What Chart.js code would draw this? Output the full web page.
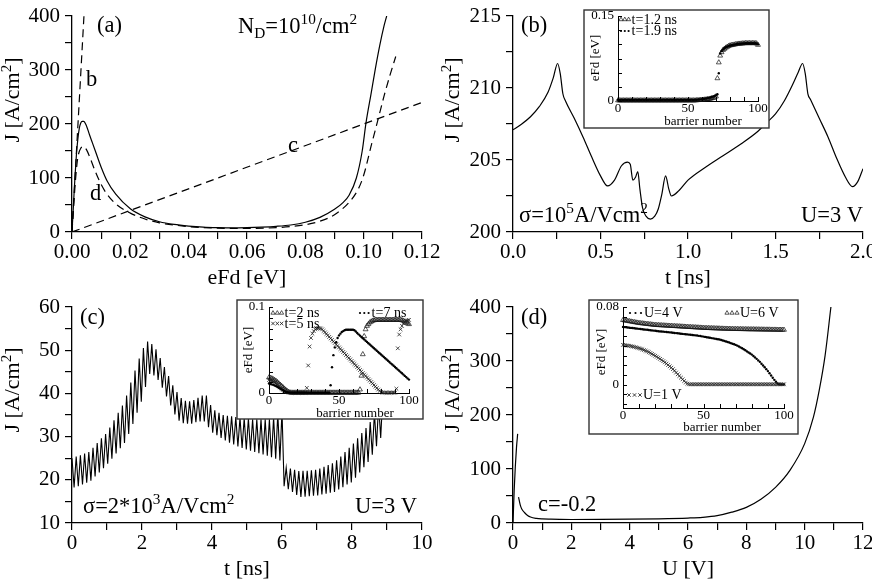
<!DOCTYPE html>
<html>
<head>
<meta charset="utf-8">
<script src="https://cdn.jsdelivr.net/npm/chart.js@4.4.1/dist/chart.umd.min.js"></script>
<style>
  html, body { margin: 0; padding: 0; background: #fff; }
  #wrap { position: relative; width: 872px; height: 579px; overflow: hidden; background: #fff; }
  #wrap canvas { position: absolute; left: 0; top: 0; }
</style>
</head>
<body>
<div id="wrap">
  <canvas id="pa" width="872" height="579"></canvas>
  <canvas id="pb" width="872" height="579"></canvas>
  <canvas id="pc" width="872" height="579"></canvas>
  <canvas id="pd" width="872" height="579"></canvas>
  <canvas id="ib" width="872" height="579"></canvas>
  <canvas id="ic" width="872" height="579"></canvas>
  <canvas id="id" width="872" height="579"></canvas>
</div>
<script>
// ---- panel (a): J vs eFd ----
const aSolidX = [0, 0.0005, 0.001, 0.0015, 0.002, 0.0025, 0.003, 0.0035, 0.004, 0.005, 0.006, 0.007, 0.008, 0.01, 0.012, 0.015, 0.02, 0.025, 0.03, 0.035, 0.04, 0.045, 0.05, 0.055, 0.06, 0.065, 0.07, 0.075, 0.08, 0.085, 0.09, 0.093, 0.095, 0.0975, 0.0995, 0.1008, 0.1025, 0.104, 0.1055, 0.107, 0.1079];
const aSolidY = [0, 50, 100, 142, 172, 192, 202, 205, 205, 196, 180, 165, 150, 120, 95, 70, 43, 28, 19, 14, 11, 9, 8, 7.5, 8, 9, 10.5, 13, 18, 27, 42, 55, 68, 100, 150, 202, 255, 302, 345, 382, 400];
const aDashX = [0, 0.0005, 0.001, 0.0015, 0.002, 0.003, 0.004, 0.005, 0.006, 0.008, 0.01, 0.012, 0.015, 0.02, 0.025, 0.03, 0.04, 0.05, 0.06, 0.07, 0.075, 0.08, 0.085, 0.09, 0.095, 0.098, 0.1, 0.1025, 0.105, 0.107, 0.109, 0.111];
const aDashY = [0, 42, 82, 115, 138, 155, 158, 152, 140, 112, 88, 70, 52, 35, 24, 17, 10, 7, 6.5, 8, 10, 13.5, 20, 32, 55, 78, 105, 158, 210, 252, 290, 325];
const aLineBX = [0, 0.0041], aLineBY = [0, 400];
const aLineCX = [0, 0.12], aLineCY = [0, 240];
const aXMajor = [0, 0.02, 0.04, 0.06, 0.08, 0.10, 0.12];
const aYMajor = [0, 100, 200, 300, 400];

// ---- panel (b): J vs t, sigma = 1e5 ----
const bT = [0, 0.05, 0.1, 0.15, 0.2, 0.23, 0.255, 0.27, 0.285, 0.3, 0.35, 0.4, 0.45, 0.5, 0.54, 0.58, 0.62, 0.655, 0.67, 0.685, 0.7, 0.713, 0.725, 0.74, 0.76, 0.785, 0.81, 0.83, 0.85, 0.872, 0.89, 0.905, 0.95, 1.0, 1.1, 1.2, 1.3, 1.4, 1.45, 1.5, 1.55, 1.6, 1.63, 1.655, 1.67, 1.685, 1.7, 1.75, 1.8, 1.85, 1.9, 1.94, 1.97, 2.0];
const bJ = [207.1, 207.5, 208.0, 208.7, 209.7, 210.7, 211.7, 211.0, 209.6, 209.1, 207.9, 206.6, 205.2, 203.9, 203.2, 203.6, 204.6, 204.85, 204.7, 203.6, 203.8, 204.2, 203.0, 201.7, 201.1, 200.9, 201.1, 201.6, 202.6, 203.9, 203.0, 202.5, 202.9, 203.6, 204.5, 205.3, 206.1, 207.0, 207.6, 208.2, 209.1, 210.3, 211.1, 211.7, 211.0, 209.6, 209.2, 207.9, 206.6, 205.1, 203.8, 203.15, 203.5, 204.4];
const bXMajor = [0, 0.5, 1.0, 1.5, 2.0];
const bYMajor = [200, 205, 210, 215];

// ---- insets: barrier numbers ----
const barrier = Array.from({ length: 101 }, (_, i) => i);

// inset (b): eFd per barrier
const bInsTri = [
  0.001, 0.001, 0.001, 0.001, 0.001, 0.001, 0.001, 0.001, 0.001, 0.001,
  0.001, 0.001, 0.001, 0.001, 0.001, 0.001, 0.001, 0.001, 0.001, 0.001,
  0.001, 0.001, 0.001, 0.001, 0.001, 0.001, 0.001, 0.001, 0.001, 0.001,
  0.001, 0.001, 0.001, 0.001, 0.001, 0.001, 0.001, 0.001, 0.001, 0.001,
  0.001, 0.001, 0.001, 0.001, 0.001, 0.001, 0.001, 0.001, 0.001, 0.001,
  0.001, 0.001, 0.001, 0.001, 0.001, 0.001,
  0.0012, 0.0014, 0.0016, 0.0018, 0.002, 0.0022, 0.0025, 0.0028, 0.0032, 0.0036, 0.0041, 0.0047, 0.0054, 0.0062,
  0.008, 0.040, 0.068, 0.080, 0.086, 0.090, 0.092, 0.094, 0.0955, 0.097,
  0.098, 0.0985, 0.099, 0.0995, 0.1, 0.1005, 0.101, 0.101, 0.1013, 0.1015,
  0.1017, 0.102, 0.102, 0.102, 0.102, 0.102, 0.102, 0.102, 0.102, 0.1015,
  0.099];
const bInsDot = [
  0.002, 0.002, 0.002, 0.002, 0.002, 0.002, 0.002, 0.002, 0.002, 0.002,
  0.002, 0.002, 0.002, 0.002, 0.002, 0.002, 0.002, 0.002, 0.002, 0.002,
  0.002, 0.002, 0.002, 0.002, 0.002, 0.002, 0.002, 0.002, 0.002, 0.002,
  0.002, 0.002, 0.002, 0.002, 0.002, 0.002, 0.002, 0.002, 0.002, 0.002,
  0.002, 0.002, 0.002, 0.002, 0.002, 0.002, 0.002, 0.002, 0.002, 0.002,
  0.002, 0.002, 0.002, 0.002, 0.002, 0.002,
  0.0022, 0.0024, 0.0026, 0.0029, 0.0032, 0.0036, 0.004, 0.0045, 0.005, 0.0056, 0.0063,
  0.007, 0.0078, 0.0087, 0.0098,
  0.012, 0.049, 0.084, 0.088, 0.091, 0.093, 0.095, 0.096, 0.097,
  0.098, 0.0985, 0.099, 0.0995, 0.1, 0.1005, 0.101, 0.101, 0.1013, 0.1015,
  0.1017, 0.102, 0.102, 0.102, 0.102, 0.102, 0.102, 0.102, 0.102, 0.1015, 0.1];

// ---- panel (c): J vs t, sigma = 2e3 ----
const cT = [0, 0.06, 0.12, 0.18, 0.24, 0.3, 0.36, 0.42, 0.48, 0.54, 0.6, 0.66, 0.72, 0.78, 0.84, 0.9, 0.96, 1.02, 1.08, 1.14, 1.2, 1.26, 1.32, 1.38, 1.44, 1.5, 1.56, 1.62, 1.68, 1.74, 1.8, 1.86, 1.92, 1.98, 2.04, 2.1, 2.16, 2.22, 2.28, 2.34, 2.4, 2.46, 2.52, 2.58, 2.64, 2.7, 2.76, 2.82, 2.88, 2.94, 3.0, 3.06, 3.12, 3.18, 3.24, 3.3, 3.36, 3.42, 3.48, 3.54, 3.6, 3.66, 3.72, 3.78, 3.84, 3.9, 3.96, 4.02, 4.08, 4.14, 4.2, 4.26, 4.32, 4.38, 4.44, 4.5, 4.56, 4.62, 4.68, 4.74, 4.8, 4.86, 4.92, 4.98, 5.04, 5.1, 5.16, 5.22, 5.28, 5.34, 5.4, 5.46, 5.52, 5.58, 5.64, 5.7, 5.76, 5.82, 5.88, 5.94, 6.0, 6.06, 6.12, 6.18, 6.24, 6.3, 6.36, 6.42, 6.48, 6.54, 6.6, 6.66, 6.72, 6.78, 6.84, 6.9, 6.96, 7.02, 7.08, 7.14, 7.2, 7.26, 7.32, 7.38, 7.44, 7.5, 7.56, 7.62, 7.68, 7.74, 7.8, 7.86, 7.92, 7.98, 8.04, 8.1, 8.16, 8.22, 8.28, 8.34, 8.4, 8.46, 8.52, 8.58, 8.64, 8.7, 8.76, 8.82, 8.88];
const cJ = [25, 18.2, 25.4, 18.5, 25.7, 18.9, 26.1, 19.3, 26.4, 19.8, 27.4, 20.8, 28.5, 21.7, 29.6, 22.7, 30.6, 23.7, 32.1, 24.9, 33.8, 26.1, 35.5, 27.3, 37.2, 28.5, 39.5, 30.6, 42.5, 32.9, 45.3, 35.5, 48.1, 38.1, 50.5, 41.5, 52, 44.5, 51.4, 44.15, 50.2, 43.1, 48.2, 41.3, 46.1, 39.3, 44, 37.2, 41.9, 35.1, 40.3, 33.7, 38.9, 33.1, 38.3, 33, 38.15, 33, 38.45, 33.35, 39, 33.5, 39.5, 33.5, 39.5, 32.2, 37.3, 30.9, 36.1, 30.3, 35.5, 29.7, 35, 29.1, 34.8, 28.6, 34.7, 28.2, 34.5, 27.7, 34.4, 27.35, 34.3, 27, 34.2, 26.75, 34, 26.45, 34, 26.15, 34, 25.85, 34, 25.55, 34, 25.2, 34.5, 24.9, 35.4, 24.5, 36, 18.5, 22.8, 17.8, 22.6, 17.2, 22.3, 16.5, 22, 16.05, 22.1, 16.1, 22.1, 16.2, 22.2, 16.3, 22.3, 16.4, 22.6, 16.6, 23, 16.8, 23.4, 17, 23.8, 17.2, 24.5, 17.75, 25.4, 18.3, 26.4, 18.9, 27.4, 19.4, 28.4, 20.5, 29.6, 21.7, 30.8, 22.9, 32, 24.1, 33.4, 25.8, 35.5, 27.75, 37.5, 29.7, 39.6];
const cXMajor = [0, 2, 4, 6, 8, 10];
const cYMajor = [10, 20, 30, 40, 50, 60];

// inset (c)
const cInsTri = [
  0.018, 0.0175, 0.017, 0.016, 0.015, 0.014, 0.0125, 0.011, 0.0095, 0.008, 0.0065, 0.005, 0.0035, 0.0022, 0.0012, 0.0006,
  0.0004, 0.0004, 0.0004, 0.0004, 0.0004, 0.0004, 0.0004, 0.0004, 0.0004, 0.0004,
  0.0004, 0.0004, 0.0004, 0.0004, 0.0004, 0.0004, 0.0004, 0.0004, 0.0004, 0.0004,
  0.0004, 0.0004, 0.0004, 0.0004, 0.0004, 0.0004, 0.0004, 0.0004, 0.0004, 0.0004,
  0.0004, 0.0004, 0.0004, 0.0004, 0.0004, 0.0004, 0.0004, 0.0004, 0.0004, 0.0004,
  0.0004, 0.0004, 0.0004, 0.0004, 0.0004, 0.0004, 0.0004, 0.0004, 0.0004,
  0.004, 0.02, 0.045, 0.066, 0.074, 0.078, 0.080, 0.082, 0.083, 0.084,
  0.0845,
  0.085, 0.085, 0.085, 0.085, 0.085, 0.085, 0.085, 0.085, 0.085, 0.085,
  0.085, 0.085, 0.085, 0.085, 0.085, 0.085, 0.085, 0.085, 0.085,
  0.0845, 0.084, 0.083, 0.082, 0.081, 0.080];
const cInsCross = [
  0.015, 0.0145, 0.014, 0.013, 0.012, 0.011, 0.0095, 0.008, 0.0065, 0.005, 0.0037, 0.0026, 0.0017, 0.001, 0.0006, 0.0004,
  0.0004, 0.0004, 0.0004, 0.0004, 0.0004, 0.0004, 0.0004, 0.0004, 0.0004, 0.0004, 0.0004,
  0.006, 0.032, 0.054, 0.064, 0.069, 0.072, 0.074, 0.075, 0.0755, 0.0755, 0.075, 0.074,
  0.0722, 0.0705, 0.0687, 0.067, 0.0652, 0.0635, 0.0617, 0.06, 0.0582, 0.0565, 0.0547, 0.053, 0.0512, 0.0495, 0.0477, 0.046, 0.0442, 0.0425, 0.0407, 0.039,
  0.0372, 0.0355, 0.0337, 0.032, 0.0302, 0.0285, 0.0267, 0.025, 0.0232, 0.0215, 0.0197, 0.018, 0.0162, 0.0145, 0.0127, 0.011, 0.0092, 0.0075, 0.0057, 0.004,
  0.0024, 0.0012, 0.0006,
  0.0004, 0.0004, 0.0004, 0.0004, 0.0004, 0.0004, 0.0004, 0.0004, 0.0004,
  0.005, 0.052, 0.068, 0.074, 0.078, 0.081, 0.083, 0.084, 0.0845, 0.085];
const cInsDot = [
  0.011, 0.0105, 0.01, 0.0095, 0.0088, 0.008, 0.007, 0.006, 0.005, 0.004, 0.003, 0.0021, 0.0014, 0.0009, 0.0006, 0.0004,
  0.0004, 0.0004, 0.0004, 0.0004, 0.0004, 0.0004, 0.0004, 0.0004, 0.0004, 0.0004,
  0.0004, 0.0004, 0.0004, 0.0004, 0.0004, 0.0004, 0.0004, 0.0004, 0.0004, 0.0004,
  0.0004, 0.0004, 0.0004, 0.0004, 0.0004, 0.0004, 0.0004, 0.0004,
  0.009, 0.03, 0.044, 0.053, 0.059, 0.064, 0.067, 0.069, 0.071, 0.072, 0.073,
  0.0735, 0.0735, 0.0735, 0.0735, 0.0735, 0.0735,
  0.073, 0.0715, 0.0698, 0.0682, 0.0667,
  0.0652, 0.0637, 0.0623, 0.0608, 0.0594, 0.0579, 0.0564, 0.055, 0.0535, 0.0521, 0.0506, 0.0491, 0.0477, 0.0462, 0.0448, 0.0433, 0.0418, 0.0404,
  0.0389, 0.0375, 0.036, 0.0345, 0.0331, 0.0316, 0.0302, 0.0287, 0.0272, 0.0258, 0.0243, 0.0229, 0.0214, 0.0199, 0.0185, 0.017, 0.0156];

// ---- panel (d): J vs U ----
const dSpikeU = [0, 0.04, 0.08, 0.12, 0.16];
const dSpikeJ = [0, 60, 105, 140, 165];
const dU = [0.19, 0.25, 0.3, 0.4, 0.5, 0.6, 0.8, 1.0, 1.3, 1.6, 2, 3, 4, 5, 6, 6.5, 7, 7.5, 8, 8.5, 9, 9.5, 10, 10.3, 10.5, 10.7, 10.9];
const dJ = [48, 33, 26, 19, 14, 11, 8.5, 7.5, 7, 6.7, 6.5, 6.6, 7, 7.8, 9.2, 10.5, 13.5, 20, 29, 44, 66, 98, 147, 196, 246, 310, 400];
const dXMajor = [0, 2, 4, 6, 8, 10, 12];
const dYMajor = [0, 100, 200, 300, 400];

// inset (d)
const dInsTri = [
  0.0665, 0.0662, 0.0659, 0.0656, 0.0653, 0.065, 0.0647, 0.0644, 0.0641, 0.0638, 0.0635,
  0.0633, 0.0631, 0.0629, 0.0627, 0.0625, 0.0623, 0.0621, 0.0619, 0.0617, 0.0615,
  0.0614, 0.0613, 0.0612, 0.0611, 0.061, 0.0609, 0.0608, 0.0607, 0.0606, 0.0605,
  0.0604, 0.0603, 0.0602, 0.0601, 0.06, 0.0599, 0.0598, 0.0597, 0.0596, 0.0595,
  0.0594, 0.0593, 0.0592, 0.0591, 0.059, 0.0589, 0.0588, 0.0587, 0.0586, 0.0585,
  0.0584, 0.0583, 0.0583, 0.0582, 0.0581, 0.0581, 0.058, 0.0579, 0.0579, 0.0578,
  0.0577, 0.0577, 0.0576, 0.0576, 0.0575, 0.0575, 0.0574, 0.0574, 0.0573, 0.0573,
  0.0573, 0.0572, 0.0572, 0.0572, 0.0571, 0.0571, 0.0571, 0.057, 0.057, 0.057,
  0.057, 0.0569, 0.0569, 0.0569, 0.0568, 0.0568, 0.0568, 0.0567, 0.0567, 0.0567,
  0.0567, 0.0566, 0.0566, 0.0566, 0.0566, 0.0565, 0.0565, 0.0565, 0.0565, 0.0565];
const dInsDot = [
  0.0595, 0.0593, 0.0591, 0.0589, 0.0587, 0.0585, 0.0583, 0.0581, 0.0579, 0.0577, 0.0575,
  0.0573, 0.0571, 0.0569, 0.0567, 0.0565, 0.0563, 0.0561, 0.0559, 0.0557, 0.0555,
  0.0553, 0.0551, 0.0549, 0.0548, 0.0546, 0.0544, 0.0542, 0.0541, 0.0539, 0.0537,
  0.0535, 0.0533, 0.0531, 0.0529, 0.0527, 0.0525, 0.0523, 0.0521, 0.052, 0.0518,
  0.0516, 0.0514, 0.0512, 0.051, 0.0508, 0.0506, 0.0503, 0.0501, 0.0498, 0.0495,
  0.0492, 0.0489, 0.0486, 0.0483, 0.048, 0.0477, 0.0474, 0.0471, 0.0468, 0.0465,
  0.046, 0.0455, 0.045, 0.0445, 0.044, 0.0434, 0.0428, 0.0422, 0.0416, 0.041,
  0.0402, 0.0393, 0.0384, 0.0375, 0.0365, 0.0354, 0.0343, 0.0332, 0.0321, 0.031,
  0.0296, 0.0281, 0.0266, 0.025, 0.0235, 0.0216, 0.0198, 0.018, 0.016, 0.014,
  0.0118, 0.0095, 0.0072, 0.005, 0.003, 0.0013, 0.0005, 0.0003, 0.0003, 0.0003];
const dInsCross = [
  0.041, 0.0408, 0.0405, 0.0402, 0.04, 0.0397, 0.0393, 0.0389, 0.0385, 0.038, 0.0375,
  0.037, 0.0364, 0.0357, 0.035, 0.0343, 0.0335, 0.0326, 0.0317, 0.0308, 0.0298,
  0.0288, 0.0277, 0.0266, 0.0254, 0.0242, 0.023, 0.0217, 0.0203, 0.0189, 0.0175,
  0.016, 0.0143, 0.0125, 0.0107, 0.009, 0.0072, 0.0055, 0.0038, 0.0022, 0.001,
  0.0004, 0.0004, 0.0004, 0.0004, 0.0004, 0.0004, 0.0004, 0.0004, 0.0004, 0.0004,
  0.0004, 0.0004, 0.0004, 0.0004, 0.0004, 0.0004, 0.0004, 0.0004, 0.0004, 0.0004,
  0.0004, 0.0004, 0.0004, 0.0004, 0.0004, 0.0004, 0.0004, 0.0004, 0.0004, 0.0004,
  0.0004, 0.0004, 0.0004, 0.0004, 0.0004, 0.0004, 0.0004, 0.0004, 0.0004, 0.0004,
  0.0004, 0.0004, 0.0004, 0.0004, 0.0004, 0.0004, 0.0004, 0.0004, 0.0004, 0.0004,
  0.0004, 0.0004, 0.0004, 0.0004, 0.0004, 0.0004, 0.0004, 0.0004, 0.0004, 0.0004];
const insXMajor = [0, 50, 100];

//#region helpers
const SERIF = "'Liberation Serif', 'Times New Roman', serif";
const W = 872, H = 579;
const TICK_PX = 21, NOTE_PX = 22.5, TITLE_PX = 22;
Chart.defaults.font.family = SERIF;
Chart.defaults.color = '#000';
Chart.defaults.animation = false;

const pts = (xs, ys) => xs.map((x, i) => ({ x: x, y: ys[i] }));

function ticksEvery(step) {
  return function (scale) {
    const out = [];
    const n0 = Math.ceil(scale.min / step - 1e-9), n1 = Math.floor(scale.max / step + 1e-9);
    for (let n = n0; n <= n1; n++) out.push({ value: +(n * step).toFixed(6) });
    scale.ticks = out;
  };
}
function labelFor(v, majors, fmt) {
  return majors.some(m => Math.abs(m - v) < 1e-7) ? fmt(v) : '';
}
// scale boxes are given fixed sizes so the plot area lands where the padding says
function fixX(h) {
  return s => { s.height = h; s.paddingLeft = 0; s.paddingRight = 0; };
}
function fixY(w) {
  return s => { s.width = w; s.paddingTop = 0; s.paddingBottom = 0; };
}
const MX = 45, MY = 70, IX = 28, IY = 34;

// outward ticks, only left + bottom spines (main panels)
function mainScales(p) {
  return {
    x: {
      type: 'linear', position: 'bottom', min: p.xMin, max: p.xMax,
      afterFit: fixX(MX),
      afterBuildTicks: ticksEvery(p.xStep),
      ticks: { autoSkip: false, maxRotation: 0, padding: 1, font: { size: TICK_PX }, color: '#000',
        callback: v => labelFor(v, p.xMajor, p.xFmt) },
      grid: { drawOnChartArea: false, drawTicks: true, tickLength: 7, color: '#000', lineWidth: 1.2 },
      border: { color: '#000', width: 1.3 }
    },
    y: {
      type: 'linear', position: 'left', min: p.yMin, max: p.yMax,
      afterFit: fixY(MY),
      afterBuildTicks: ticksEvery(p.yStep),
      ticks: { autoSkip: false, padding: 5, font: { size: TICK_PX }, color: '#000',
        callback: v => labelFor(v, p.yMajor, p.yFmt) },
      grid: { drawOnChartArea: false, drawTicks: true, tickLength: 7, color: '#000', lineWidth: 1.2 },
      border: { color: '#000', width: 1.3 }
    }
  };
}
// inset axes: ticks drawn inward by the decor plugin
function insetScales(p) {
  return {
    x: {
      type: 'linear', position: 'bottom', min: 0, max: 100,
      afterFit: fixX(IX),
      afterBuildTicks: ticksEvery(10),
      ticks: { autoSkip: false, maxRotation: 0, padding: 0, font: { size: 13 }, color: '#000',
        callback: v => labelFor(v, insXMajor, x => String(x)) },
      grid: { display: true, drawOnChartArea: false, drawTicks: false },
      border: { color: '#000', width: 1 }
    },
    y: {
      type: 'linear', position: 'left', min: p.yMin, max: p.yMax,
      afterFit: fixY(IY),
      afterBuildTicks: ticksEvery(p.yStep),
      ticks: { autoSkip: false, padding: 4, font: { size: 13 }, color: '#000',
        callback: v => labelFor(v, p.yMajor, y => String(y)) },
      grid: { display: true, drawOnChartArea: false, drawTicks: false },
      border: { color: '#000', width: 1 }
    }
  };
}

function drawRich(ctx, it) {
  const sz = it.size || NOTE_PX;
  ctx.save();
  ctx.translate(it.x, it.y);
  if (it.rot) ctx.rotate(it.rot);
  const segs = it.parts.map(p => {
    const fs = p[1] ? sz * 0.68 : sz;
    ctx.font = fs + 'px ' + SERIF;
    return { t: p[0], m: p[1], fs: fs, w: ctx.measureText(p[0]).width };
  });
  const total = segs.reduce((a, s) => a + s.w, 0);
  let x = it.align === 'center' ? -total / 2 : it.align === 'right' ? -total : 0;
  ctx.fillStyle = '#000';
  ctx.textBaseline = 'alphabetic';
  ctx.textAlign = 'left';
  for (const s of segs) {
    ctx.font = s.fs + 'px ' + SERIF;
    const dy = s.m === 'sup' ? -sz * 0.38 : s.m === 'sub' ? sz * 0.22 : 0;
    ctx.fillText(s.t, x, dy);
    x += s.w;
  }
  ctx.restore();
}

function marker(ctx, style, x, y) {
  ctx.save();
  ctx.strokeStyle = '#111';
  ctx.fillStyle = '#000';
  ctx.beginPath();
  if (style === 'tri') {
    const r = 2.4;
    ctx.lineWidth = 0.7;
    ctx.moveTo(x, y - r);
    ctx.lineTo(x + r * 0.866, y + r / 2);
    ctx.lineTo(x - r * 0.866, y + r / 2);
    ctx.closePath();
    ctx.stroke();
  } else if (style === 'dot') {
    ctx.arc(x, y, 1.1, 0, Math.PI * 2);
    ctx.fill();
  } else {
    const r = 1.7;
    ctx.lineWidth = 0.8;
    ctx.moveTo(x - r, y - r); ctx.lineTo(x + r, y + r);
    ctx.moveTo(x - r, y + r); ctx.lineTo(x + r, y - r);
    ctx.stroke();
  }
  ctx.restore();
}

const decor = {
  id: 'decor',
  beforeDraw(chart, args, o) {
    if (!o.frame) return;
    const ctx = chart.ctx, f = o.frame;
    ctx.save();
    ctx.fillStyle = '#fff';
    ctx.fillRect(f[0], f[1], f[2] - f[0], f[3] - f[1]);
    ctx.strokeStyle = '#333';
    ctx.lineWidth = 1.4;
    ctx.strokeRect(f[0], f[1], f[2] - f[0], f[3] - f[1]);
    ctx.restore();
  },
  afterDraw(chart, args, o) {
    const ctx = chart.ctx;
    if (o.inTicks) {
      const xs = chart.scales.x, ys = chart.scales.y, ca = chart.chartArea;
      ctx.save();
      ctx.strokeStyle = '#000';
      ctx.lineWidth = 1;
      ctx.beginPath();
      xs.ticks.forEach(t => {
        const px = Math.round(xs.getPixelForValue(t.value)) + 0.5;
        ctx.moveTo(px, ca.bottom); ctx.lineTo(px, ca.bottom - o.inTicks);
      });
      ys.ticks.forEach(t => {
        const py = Math.round(ys.getPixelForValue(t.value)) + 0.5;
        ctx.moveTo(ca.left, py); ctx.lineTo(ca.left + o.inTicks, py);
      });
      ctx.stroke();
      ctx.restore();
    }
    (o.legend || []).forEach(l => {
      for (let k = 0; k < 3; k++) marker(ctx, l.style, l.x + k * l.gap, l.y);
      drawRich(ctx, { x: l.x + 2 * l.gap + 3, y: l.y + 4, size: 14, parts: [[l.text]] });
    });
    (o.texts || []).forEach(t => drawRich(ctx, t));
  }
};

function padFor(L, T, R, B, yw, xh) {
  return { left: L - yw, top: T, right: W - R, bottom: H - B - xh };
}
function lineSet(data, dash, mono) {
  return {
    data: data, showLine: true, pointRadius: 0, borderColor: '#000', borderWidth: 1.2,
    borderDash: dash || [], cubicInterpolationMode: mono ? 'monotone' : 'default', tension: 0
  };
}
const TRI = { pointStyle: 'triangle', pointRadius: 2.8, borderWidth: 0.7, borderColor: '#111', backgroundColor: 'rgba(0,0,0,0)' };
const DOT = { pointStyle: 'circle', pointRadius: 1.2, borderWidth: 0, backgroundColor: '#000', borderColor: '#000' };
const CRS = { pointStyle: 'crossRot', pointRadius: 2.6, borderWidth: 0.8, borderColor: '#222', backgroundColor: '#222' };
function markSet(ys, st) {
  return Object.assign({ data: pts(barrier, ys), showLine: false, clip: false }, st);
}
function makeChart(id, datasets, scales, padding, decorOpts) {
  return new Chart(document.getElementById(id), {
    type: 'scatter',
    data: { datasets: datasets },
    options: {
      responsive: false, animation: false, events: [],
      layout: { padding: padding },
      scales: scales,
      plugins: { legend: { display: false }, tooltip: { enabled: false }, decor: decorOpts }
    },
    plugins: [decor]
  });
}
const YT = [['J [A/cm'], ['2', 'sup'], [']']];
//#endregion

// (a)
makeChart('pa', [
  lineSet(pts(aSolidX, aSolidY), null, true),
  lineSet(pts(aDashX, aDashY), [8, 5], true),
  lineSet(pts(aLineBX, aLineBY), [8, 5]),
  lineSet(pts(aLineCX, aLineCY), [8, 5])
], mainScales({ xMin: 0, xMax: 0.12, xStep: 0.01, xMajor: aXMajor, xFmt: v => v.toFixed(2),
  yMin: 0, yMax: 400, yStep: 50, yMajor: aYMajor, yFmt: v => String(v) }),
padFor(72, 16, 422, 232, MY, MX), {
  texts: [
    { x: 97, y: 32, parts: [['(a)']] },
    { x: 238, y: 33, parts: [['N'], ['D', 'sub'], ['=10'], ['10', 'sup'], ['/cm'], ['2', 'sup']] },
    { x: 86, y: 86, parts: [['b']] },
    { x: 288, y: 152, parts: [['c']] },
    { x: 90, y: 200, parts: [['d']] },
    { x: 247, y: 284, size: TITLE_PX, align: 'center', parts: [['eFd [eV]']] },
    { x: 19, y: 100, size: TITLE_PX, align: 'center', rot: -Math.PI / 2, parts: YT }
  ]
});

// (b)
makeChart('pb', [lineSet(pts(bT, bJ), null, true)],
mainScales({ xMin: 0, xMax: 2, xStep: 0.25, xMajor: bXMajor, xFmt: v => v.toFixed(1),
  yMin: 200, yMax: 215, yStep: 2.5, yMajor: bYMajor, yFmt: v => String(v) }),
padFor(513, 16, 863, 232, MY, MX), {
  texts: [
    { x: 521, y: 32, parts: [['(b)']] },
    { x: 519, y: 222, parts: [['\u03c3=10'], ['5', 'sup'], ['A/Vcm'], ['2', 'sup']] },
    { x: 863, y: 222, align: 'right', parts: [['U=3 V']] },
    { x: 688, y: 284, size: TITLE_PX, align: 'center', parts: [['t [ns]']] },
    { x: 459, y: 100, size: TITLE_PX, align: 'center', rot: -Math.PI / 2, parts: YT }
  ]
});

// (c)
makeChart('pc', [Object.assign(lineSet(pts(cT, cJ)), { borderWidth: 1.1 })],
mainScales({ xMin: 0, xMax: 10, xStep: 1, xMajor: cXMajor, xFmt: v => String(v),
  yMin: 10, yMax: 60, yStep: 5, yMajor: cYMajor, yFmt: v => String(v) }),
padFor(72, 307, 422, 523, MY, MX), {
  texts: [
    { x: 80, y: 324, parts: [['(c)']] },
    { x: 83, y: 513, parts: [['\u03c3=2*10'], ['3', 'sup'], ['A/Vcm'], ['2', 'sup']] },
    { x: 417, y: 513, align: 'right', parts: [['U=3 V']] },
    { x: 247, y: 575, size: TITLE_PX, align: 'center', parts: [['t [ns]']] },
    { x: 19, y: 390, size: TITLE_PX, align: 'center', rot: -Math.PI / 2, parts: YT }
  ]
});

// (d)
makeChart('pd', [
  lineSet(pts(dSpikeU, dSpikeJ), null, true),
  lineSet(pts(dU, dJ), null, true)
], mainScales({ xMin: 0, xMax: 12, xStep: 1, xMajor: dXMajor, xFmt: v => String(v),
  yMin: 0, yMax: 400, yStep: 50, yMajor: dYMajor, yFmt: v => String(v) }),
padFor(513, 307, 863, 523, MY, MX), {
  texts: [
    { x: 521, y: 324, parts: [['(d)']] },
    { x: 538, y: 511, parts: [['c=-0.2']] },
    { x: 688, y: 575, size: TITLE_PX, align: 'center', parts: [['U [V]']] },
    { x: 459, y: 390, size: TITLE_PX, align: 'center', rot: -Math.PI / 2, parts: YT }
  ]
});

// inset (b)
makeChart('ib', [markSet(bInsDot, DOT), markSet(bInsTri, TRI)],
insetScales({ yMin: 0, yMax: 0.15, yStep: 0.025, yMajor: [0, 0.15] }),
padFor(618, 16, 758, 101, IY, IX), {
  frame: [584, 10, 769, 128], inTicks: 4,
  legend: [
    { style: 'tri', x: 621, y: 19.5, gap: 3.8, text: 't=1.2 ns' },
    { style: 'dot', x: 621, y: 31, gap: 3.8, text: 't=1.9 ns' }
  ],
  texts: [
    { x: 703, y: 125, size: 13, align: 'center', parts: [['barrier number']] },
    { x: 599, y: 58, size: 13, align: 'center', rot: -Math.PI / 2, parts: [['eFd [eV]']] }
  ]
});

// inset (c)
makeChart('ic', [markSet(cInsDot, DOT), markSet(cInsCross, CRS), markSet(cInsTri, TRI)],
insetScales({ yMin: 0, yMax: 0.1, yStep: 0.0125, yMajor: [0, 0.1] }),
padFor(269, 307, 409, 393, IY, IX), {
  frame: [237, 300, 423, 419], inTicks: 4,
  legend: [
    { style: 'tri', x: 273, y: 313, gap: 4.3, text: 't=2 ns' },
    { style: 'crs', x: 273, y: 323.5, gap: 4.3, text: 't=5 ns' },
    { style: 'dot', x: 360, y: 313, gap: 4.3, text: 't=7 ns' }
  ],
  texts: [
    { x: 355, y: 417, size: 13, align: 'center', parts: [['barrier number']] },
    { x: 252, y: 350, size: 13, align: 'center', rot: -Math.PI / 2, parts: [['eFd [eV]']] }
  ]
});

// inset (d)
makeChart('id', [markSet(dInsCross, CRS), markSet(dInsDot, DOT), markSet(dInsTri, TRI)],
insetScales({ yMin: -0.024, yMax: 0.08, yStep: 0.01, yMajor: [0, 0.08] }),
padFor(623, 307, 784, 408, IY, IX), {
  frame: [589, 300, 798, 434], inTicks: 4,
  legend: [
    { style: 'dot', x: 630, y: 313, gap: 5.5, text: 'U=4 V' },
    { style: 'tri', x: 727, y: 313, gap: 5, text: 'U=6 V' },
    { style: 'crs', x: 629, y: 395, gap: 5.5, text: 'U=1 V' }
  ],
  texts: [
    { x: 722, y: 431, size: 13, align: 'center', parts: [['barrier number']] },
    { x: 605, y: 352, size: 13, align: 'center', rot: -Math.PI / 2, parts: [['eFd [eV]']] }
  ]
});
</script>
</body>
</html>
